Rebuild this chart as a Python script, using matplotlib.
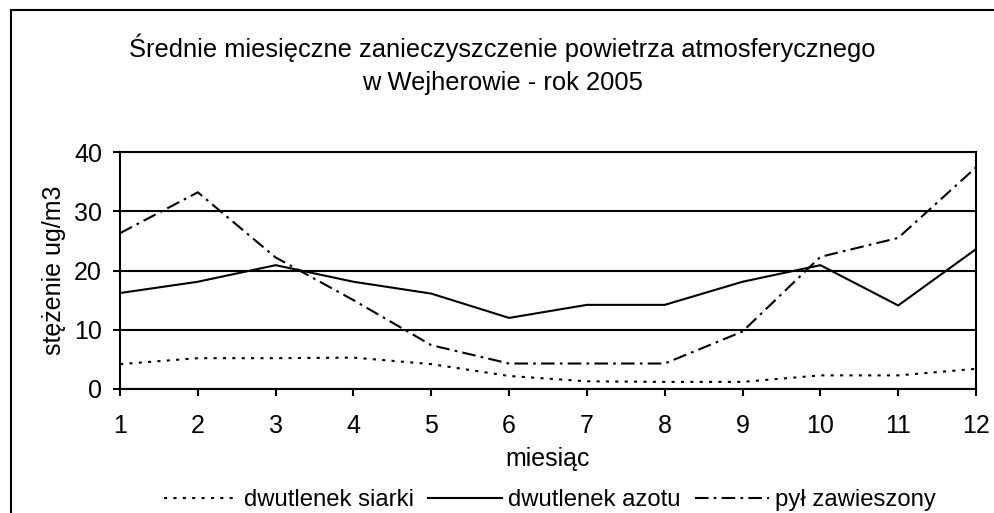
import matplotlib
matplotlib.use("Agg")
import matplotlib.pyplot as plt
from matplotlib.lines import Line2D
from matplotlib.patches import Rectangle

plt.rcParams['font.family'] = ['Liberation Sans', 'DejaVu Sans']

miesiace = list(range(1, 13))
so2 = [4.2, 5.2, 5.2, 5.3, 4.2, 2.2, 1.3, 1.2, 1.2, 2.3, 2.3, 3.4]
no2 = [16.2, 18.1, 20.9, 18.1, 16.1, 12.0, 14.2, 14.2, 18.1, 20.9, 14.1, 23.6]
pyl = [26.3, 33.2, 22.2, 15.0, 7.4, 4.3, 4.3, 4.3, 9.7, 22.3, 25.5, 37.4]
nazwy = ['dwutlenek siarki', 'dwutlenek azotu', 'pył zawieszony']
y_ticks = [0, 10, 20, 30, 40]

styl_kropki = (0, (1.5, 3))
styl_kreska_kropka = (0, (6.5, 2.5, 1.3, 2.5))

W, H = 995, 513
fig = plt.figure(figsize=(W / 100, H / 100), dpi=100)

# ramka wykresu (wycinek ze zrzutu ekranu)
fig.patches.append(Rectangle((11 / W, -0.1), 1.2, (H - 10) / H + 0.1,
                             transform=fig.transFigure, fill=False,
                             edgecolor='black', linewidth=1.5))

ax = fig.add_axes([120 / W, 1 - 389 / H, (976 - 120) / W, (389 - 152) / H])
ax.plot(miesiace, so2, color='black', linewidth=1.5, linestyle=styl_kropki)
ax.plot(miesiace, no2, color='black', linewidth=1.5, linestyle='-')
ax.plot(miesiace, pyl, color='black', linewidth=1.5, linestyle=styl_kreska_kropka)

ax.set_xlim(1, 12)
ax.set_ylim(0, 40)
ax.set_xticks(miesiace)
ax.set_yticks(y_ticks)
ax.grid(axis='y', color='black', linewidth=1.5)
ax.set_axisbelow(True)
for s in ax.spines.values():
    s.set_linewidth(1.5)
ax.tick_params(direction='out', length=5, width=1.5, labelsize=18)
ax.tick_params(axis='x', pad=13)
ax.tick_params(axis='y', pad=8)

fig.text(548 / W, 1 - 459 / H, 'miesiąc', ha='center', va='center', fontsize=18)
fig.text(54 / W, 1 - 270 / H, 'stężenie ug/m3', ha='center', va='center',
         rotation=90, fontsize=18)

fig.text(502 / W, 1 - 64 / H,
         'Średnie miesięczne zanieczyszczenie powietrza atmosferycznego\nw Wejherowie - rok 2005',
         ha='center', va='center', fontsize=18.4, linespacing=1.45)

uchwyty = [
    Line2D([], [], color='black', linewidth=1.5, linestyle=styl_kropki),
    Line2D([], [], color='black', linewidth=1.5, linestyle='-'),
    Line2D([], [], color='black', linewidth=1.5, linestyle=styl_kreska_kropka),
]
fig.legend(uchwyty, nazwy, loc='center', bbox_to_anchor=(550 / W, 1 - 500 / H),
           ncol=3, frameon=False, fontsize=17.2, handlelength=3.1,
           handletextpad=0.25, columnspacing=0.6, borderpad=0, borderaxespad=0)

fig.savefig('out.png', dpi=100)
